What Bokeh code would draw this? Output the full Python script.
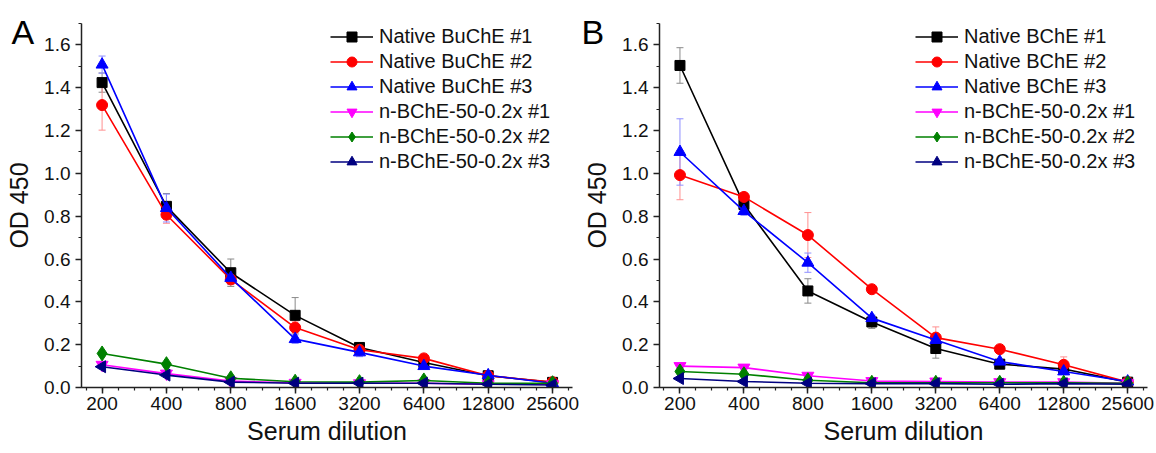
import math
from bokeh.plotting import figure
from bokeh.layouts import row
from bokeh.models import ColumnDataSource, Whisker, TeeHead, FixedTicker, Legend
from bokeh.embed import file_html
from bokeh.resources import INLINE

dilutions = ["200", "400", "800", "1600", "3200", "6400", "12800", "25600"]

names_a = ["Native BuChE #1", "Native BuChE #2", "Native BuChE #3",
           "n-BChE-50-0.2x #1", "n-BChE-50-0.2x #2", "n-BChE-50-0.2x #3"]
names_b = ["Native BChE #1", "Native BChE #2", "Native BChE #3",
           "n-BChE-50-0.2x #1", "n-BChE-50-0.2x #2", "n-BChE-50-0.2x #3"]

# Panel A values
a_native1 = [1.424, 0.846, 0.536, 0.337, 0.187, 0.117, 0.055, 0.024]
a_native2 = [1.319, 0.807, 0.505, 0.280, 0.176, 0.136, 0.055, 0.025]
a_native3 = [1.508, 0.838, 0.512, 0.226, 0.164, 0.100, 0.057, 0.020]
a_nb1 = [0.106, 0.065, 0.030, 0.022, 0.020, 0.020, 0.015, 0.015]
a_nb2 = [0.159, 0.109, 0.043, 0.027, 0.025, 0.033, 0.020, 0.020]
a_nb3 = [0.097, 0.058, 0.025, 0.020, 0.020, 0.020, 0.015, 0.012]
a_err1 = [0.045, 0.06, 0.064, 0.083, 0.015, 0.01, 0.008, 0.005]
a_err2 = [0.117, 0.04, 0.025, 0.03, 0.015, 0.015, 0.008, 0.005]
a_err3 = [0.04, 0.065, 0.03, 0.02, 0.02, 0.01, 0.008, 0.005]
a_err4 = [0.01, 0.01, 0.005, 0.005, 0.005, 0.005, 0.005, 0.005]
a_err5 = [0.01, 0.01, 0.005, 0.005, 0.005, 0.005, 0.005, 0.005]
a_err6 = [0.01, 0.01, 0.005, 0.005, 0.005, 0.005, 0.005, 0.005]

# Panel B values
b_native1 = [1.504, 0.855, 0.451, 0.306, 0.182, 0.109, 0.086, 0.025]
b_native2 = [0.992, 0.890, 0.712, 0.459, 0.233, 0.179, 0.106, 0.025]
b_native3 = [1.100, 0.824, 0.583, 0.324, 0.222, 0.121, 0.075, 0.028]
b_nb1 = [0.100, 0.093, 0.055, 0.030, 0.028, 0.025, 0.025, 0.020]
b_nb2 = [0.075, 0.062, 0.034, 0.022, 0.022, 0.022, 0.022, 0.020]
b_nb3 = [0.042, 0.028, 0.020, 0.018, 0.018, 0.015, 0.018, 0.015]
b_err1 = [0.083, 0.02, 0.057, 0.03, 0.045, 0.01, 0.01, 0.005]
b_err2 = [0.115, 0.02, 0.105, 0.015, 0.05, 0.01, 0.037, 0.005]
b_err3 = [0.155, 0.02, 0.045, 0.015, 0.02, 0.01, 0.01, 0.005]
b_err4 = [0.012, 0.012, 0.008, 0.005, 0.005, 0.005, 0.005, 0.005]
b_err5 = [0.01, 0.008, 0.005, 0.005, 0.005, 0.005, 0.005, 0.005]
b_err6 = [0.008, 0.005, 0.005, 0.005, 0.005, 0.005, 0.005, 0.005]

colors = ["#000000", "#ff0000", "#0000ff", "#ff00ff", "#008000", "#000080"]
err_colors = ["#8a8a8a", "#ff9090", "#8f8fff", "#ff90ff", "#80c080", "#8080c0"]
markers = ["square", "circle", "triangle", "inverted_triangle", "diamond", "triangle"]
angles = [0, 0, 0, 0, 0, 90]
sizes = [10, 11, 12, 12, 15, 12]

FONT = "Liberation Sans"


def make_panel(letter, names, series, errors, width, bl, br, bt, bb, leg_x, leg_y, letter_off):
    p = figure(width=width, height=453, output_backend="svg", toolbar_location=None,
               x_range=(0.68, 8.31), y_range=(0, 1.7),
               min_border_left=bl, min_border_right=br, min_border_top=bt, min_border_bottom=bb)
    p.outline_line_color = None
    p.xgrid.visible = False
    p.ygrid.visible = False
    p.background_fill_color = "white"
    p.border_fill_color = "white"
    xs = list(range(1, len(dilutions) + 1))

    items = []
    for i, (vals, errs) in enumerate(zip(series, errors)):
        src = ColumnDataSource(dict(x=xs, y=vals,
                                    upper=[v + e for v, e in zip(vals, errs)],
                                    lower=[v - e for v, e in zip(vals, errs)]))
        w = Whisker(source=src, base="x", upper="upper", lower="lower", dimension="height",
                    line_color=err_colors[i], line_width=1,
                    upper_head=TeeHead(size=7, line_color=err_colors[i], line_width=1),
                    lower_head=TeeHead(size=7, line_color=err_colors[i], line_width=1))
        p.add_layout(w)
    for i, vals in enumerate(series):
        src = ColumnDataSource(dict(x=xs, y=vals))
        l = p.line("x", "y", source=src, line_color=colors[i], line_width=1.6)
        s = p.scatter("x", "y", source=src, marker=markers[i], size=sizes[i],
                      angle=angles[i], angle_units="deg",
                      fill_color=colors[i], line_color=colors[i])
        items.append((names[i], [l, s]))

    legend = Legend(items=items, location=(leg_x, leg_y))
    legend.border_line_color = None
    legend.background_fill_alpha = 0
    legend.label_text_font = FONT
    legend.label_text_font_size = "20px"
    legend.label_text_color = "#111111"
    legend.glyph_width = 43
    legend.glyph_height = 25
    legend.label_height = 25
    legend.label_standoff = 6
    legend.spacing = 0
    legend.padding = 0
    legend.margin = 0
    p.add_layout(legend)

    p.xaxis.ticker = FixedTicker(ticks=xs, minor_ticks=[0.75 + 0.25 * k for k in range(31)])
    p.xaxis.major_label_overrides = {x: d for x, d in zip(xs, dilutions)}
    p.yaxis.ticker = FixedTicker(ticks=[round(0.2 * k, 1) for k in range(9)],
                                 minor_ticks=[round(0.1 * k, 1) for k in range(18)])
    p.yaxis.major_label_overrides = {round(0.2 * k, 1): "%.1f" % (0.2 * k) for k in range(9)}
    p.yaxis.major_label_overrides[0] = "0.0"

    for ax in (p.xaxis[0], p.yaxis[0]):
        ax.axis_line_color = "#222222"
        ax.axis_line_width = 1.5
        ax.major_tick_line_color = "#222222"
        ax.minor_tick_line_color = "#222222"
        ax.major_tick_line_width = 1.5
        ax.minor_tick_line_width = 1.2
        ax.major_tick_in = 0
        ax.major_tick_out = 6
        ax.minor_tick_in = 0
        ax.minor_tick_out = 3
        ax.major_label_text_font = FONT
        ax.major_label_text_font_size = "19px"
        ax.major_label_text_color = "#111111"
        ax.axis_label_text_font = FONT
        ax.axis_label_text_font_size = "25px"
        ax.axis_label_text_font_style = "normal"
        ax.axis_label_text_color = "#111111"
    p.xaxis.axis_label = "Serum dilution"
    p.yaxis.axis_label = "OD 450"
    p.xaxis.major_label_standoff = 3
    p.xaxis.axis_label_standoff = 4
    p.yaxis.major_label_standoff = 5
    p.yaxis.axis_label_standoff = 8

    # panel letter drawn as the figure title, pulled down beside the y axis
    p.title.text = letter
    p.title.text_font = FONT
    p.title.text_font_size = "34px"
    p.title.text_font_style = "normal"
    p.title.text_color = "#000000"
    p.title.align = "left"
    p.title.vertical_align = "bottom"
    p.title.offset = letter_off
    p.title.standoff = -54
    return p


pA = make_panel("A", names_a,
                [a_native1, a_native2, a_native3, a_nb1, a_nb2, a_nb3],
                [a_err1, a_err2, a_err3, a_err4, a_err5, a_err6],
                580, 81, 8, 23, 65, 249, 213, -70)
pB = make_panel("B", names_b,
                [b_native1, b_native2, b_native3, b_nb1, b_nb2, b_nb3],
                [b_err1, b_err2, b_err3, b_err4, b_err5, b_err6],
                576, 77, 9, 22, 66, 256, 213, -78)

layout = row(pA, pB)
open("out.html", "w").write(file_html(layout, INLINE))
